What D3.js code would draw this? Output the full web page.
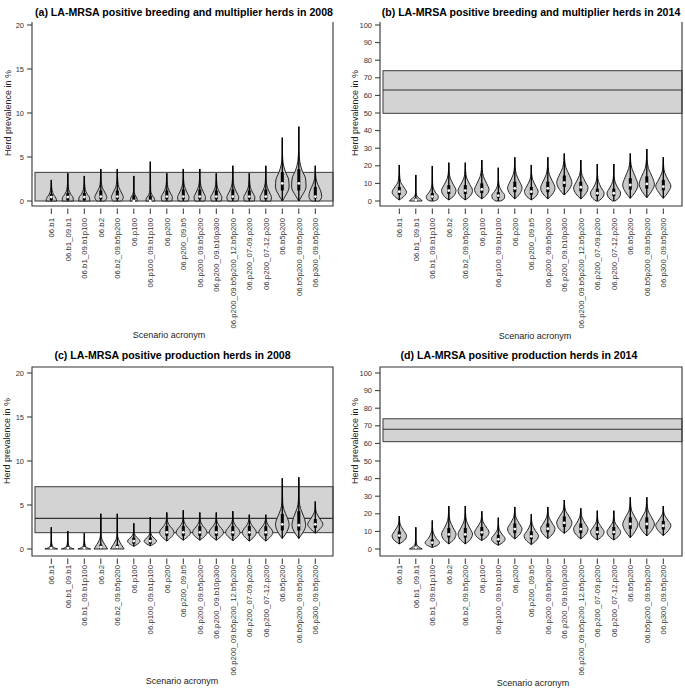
<!DOCTYPE html>
<html><head><meta charset="utf-8">
<script src="https://cdn.jsdelivr.net/npm/d3@7"></script>
<style>body{margin:0;background:#fff}svg{display:block;font-family:"Liberation Sans",Arial,sans-serif}</style>
</head><body>
<script>
const categories = ["06.b1","06.b1_09.b1","06.b1_09.b1p100","06.b2","06.b2_09.b5p200","06.p100","06.p100_09.b1p100","06.p200","06.p200_09.b5","06.p200_09.b5p200","06.p200_09.b10p300","06.p200_09.b5p200_12.b5p200","06.p200_07-09.p200","06.p200_07-12.p200","06.b5p200","06.b5p200_09.b5p200","06.p300_09.b5p200"];
const titles = ["(a) LA-MRSA positive breeding and multiplier herds in 2008","(b) LA-MRSA positive breeding and multiplier herds in 2014","(c) LA-MRSA positive production herds in 2008","(d) LA-MRSA positive production herds in 2014"];
const yLabel = "Herd prevalence in %";
const xLabel = "Scenario acronym";
const ticks2008 = [0,5,10,15,20];
const ticks2014 = [0,10,20,30,40,50,60,70,80,90,100];
// observed reference band (low, high, median line)
const bandLow = [0, 49.8, 1.86, 61.0];
const bandHigh = [3.25, 74.05, 7.08, 74.0];
const bandMid = [null, 63.1, 3.48, 68.0];

// violin outlines: [value, relative density] from bottom to top of each violin
const profA = [
 [[0,.65],[.3,.6],[.7,.3],[1.2,.1],[1.8,.03],[2.4,0]],
 [[0,.7],[.4,.65],[.8,.35],[1.3,.12],[2,.04],[3.15,0]],
 [[0,.7],[.4,.65],[.8,.35],[1.3,.12],[2,.04],[2.85,0]],
 [[0,.5],[.4,.75],[.9,.55],[1.5,.2],[2.2,.06],[3.64,0]],
 [[0,.5],[.4,.75],[.9,.55],[1.5,.22],[2.3,.06],[3.64,0]],
 [[0,.45],[.3,.4],[.7,.15],[1.1,.04],[2.85,0]],
 [[0,.55],[.3,.5],[.7,.2],[1.2,.05],[4.47,0]],
 [[0,.6],[.4,.7],[.9,.45],[1.5,.15],[2.2,.05],[3.15,0]],
 [[0,.6],[.4,.72],[.9,.5],[1.6,.17],[2.3,.05],[3.64,0]],
 [[0,.6],[.4,.72],[.9,.5],[1.6,.17],[2.3,.05],[3.64,0]],
 [[0,.6],[.4,.7],[.9,.45],[1.5,.15],[2.2,.05],[3.15,0]],
 [[0,.6],[.4,.75],[.9,.52],[1.6,.18],[2.4,.05],[4.0,0]],
 [[0,.6],[.4,.7],[.9,.45],[1.5,.15],[2.2,.05],[3.15,0]],
 [[0,.6],[.4,.72],[.9,.5],[1.6,.17],[2.4,.05],[4.0,0]],
 [[0,0],[.6,.4],[1.6,.85],[2.4,.8],[3.3,.4],[4.2,.12],[5.2,.03],[7.2,0]],
 [[0,0],[.6,.4],[1.6,.9],[2.5,.85],[3.5,.4],[4.5,.12],[5.8,.03],[8.45,0]],
 [[0,.5],[.5,.8],[1.2,.65],[1.9,.3],[2.6,.08],[4.0,0]]
];
const medA = [0.45,0.45,0.45,0.5,0.5,0,0,0.5,0.5,0.5,0.5,0.5,0.5,0.5,2.0,2.0,0.5];
const q1A = [0.1,0.1,0.1,0.2,0.2,0,0,0.2,0.2,0.2,0.2,0.2,0.2,0.2,1.2,1.2,0.3];
const q3A = [0.8,0.9,0.9,1.2,1.2,0.6,0.6,1.2,1.3,1.3,1.2,1.3,1.2,1.3,3.3,3.6,1.6];

const profB = [
 [[0.6,0],[2.5,.55],[5,.9],[8,.55],[11,.15],[15,.04],[20.5,0]],
 [[0,.8],[1,.6],[2.2,.25],[3.5,.08],[6,.02],[14.8,0]],
 [[0,.3],[1.2,.7],[2.6,.75],[4.5,.45],[7,.15],[10,.04],[19.9,0]],
 [[0.6,0],[3,.65],[6,.9],[9.5,.55],[13,.18],[17,.04],[21.8,0]],
 [[0.6,0],[3,.65],[6,.9],[9.5,.55],[13,.18],[17,.04],[21.8,0]],
 [[1.2,0],[3.5,.6],[6.5,.9],[10,.6],[14,.2],[18,.05],[23.3,0]],
 [[0,.3],[1.5,.75],[3.2,.8],[5.5,.45],[8.5,.12],[12,.03],[18.9,0]],
 [[1.2,0],[4,.6],[7.5,.9],[11,.6],[15,.2],[19,.05],[24.8,0]],
 [[0.6,0],[3,.65],[5.5,.85],[8.5,.55],[12,.18],[15.5,.04],[20.5,0]],
 [[1.2,0],[4,.6],[7.5,.9],[11,.6],[15,.2],[19,.05],[24.8,0]],
 [[3.4,0],[6.5,.6],[10.5,.95],[14.5,.65],[19,.2],[23,.05],[27,0]],
 [[1.2,0],[4,.6],[7.5,.9],[11,.55],[14.5,.18],[18,.04],[23.3,0]],
 [[0,.15],[2.2,.7],[4.5,.85],[7.5,.5],[11,.15],[15,.03],[21,0]],
 [[0,.15],[2.2,.7],[4.5,.85],[7.5,.5],[11,.15],[15,.03],[21,0]],
 [[1.5,0],[5,.6],[9,.95],[13.5,.65],[18.5,.2],[22.5,.05],[27,0]],
 [[1.9,0],[5.5,.6],[9.5,.95],[14,.65],[18.5,.2],[23.5,.05],[29.5,0]],
 [[1.5,0],[5,.6],[8.5,.95],[12,.6],[16,.18],[20,.04],[24.8,0]]
];
const medB = [5.3,0.6,2.5,5.9,5.9,6.6,3.0,7.2,5.3,7.2,10.4,7.8,4.4,4.4,9.1,9.7,8.2];
const q1B = [3.5,0.2,1.5,4,4,4.5,1.8,5,3.5,5,8,5.5,2.8,2.8,6.5,7,6];
const q3B = [8,1.5,4.5,9,9,10,5,11,8,11,14.5,11,7,7,13,14,12];

const profC = [
 [[0,.8],[.15,.35],[.4,.12],[.8,.04],[1.3,.01],[2.46,0]],
 [[0,.8],[.15,.35],[.4,.12],[.8,.04],[1.3,.01],[2.05,0]],
 [[0,.8],[.15,.35],[.4,.12],[.8,.04],[1.3,.01],[1.8,0]],
 [[0,.85],[.5,.5],[1.1,.15],[1.6,.04],[4.0,0]],
 [[0,.85],[.5,.5],[1.1,.15],[1.6,.04],[4.0,0]],
 [[.3,0],[.9,.78],[1.5,.2],[2.0,.03],[2.92,0]],
 [[.35,0],[.9,.78],[1.5,.2],[2.0,.03],[3.6,0]],
 [[.9,0],[1.9,.9],[2.8,.25],[3.3,.05],[4.15,0]],
 [[1.0,0],[1.9,.9],[2.8,.25],[3.3,.05],[4.4,0]],
 [[1.0,0],[1.9,.9],[2.8,.25],[3.3,.05],[4.15,0]],
 [[1.0,0],[1.9,.9],[2.8,.25],[3.3,.05],[4.15,0]],
 [[0.95,0],[1.9,.9],[2.8,.25],[3.3,.05],[4.3,0]],
 [[0.9,0],[1.9,.88],[2.8,.25],[3.3,.05],[3.9,0]],
 [[0.9,0],[1.9,.88],[2.8,.25],[3.3,.05],[3.9,0]],
 [[1.2,0],[2,.6],[2.8,.85],[3.6,.6],[4.5,.2],[5.3,.05],[8.03,0]],
 [[1.2,0],[2,.6],[2.7,.85],[3.6,.65],[4.6,.22],[5.5,.05],[8.15,0]],
 [[1.8,0],[2.3,.6],[2.8,.95],[3.4,.6],[4.1,.15],[4.6,.04],[5.4,0]]
];
const medC = [0.1,0.1,0.1,0.2,0.2,0.9,0.9,1.9,1.9,1.9,1.9,1.9,1.9,1.9,2.8,2.7,2.8];
const q1C = [0,0,0,0,0,0.6,0.6,1.5,1.5,1.5,1.5,1.5,1.5,1.5,2.1,2.1,2.4];
const q3C = [0.3,0.3,0.3,0.5,0.5,1.3,1.3,2.6,2.6,2.6,2.6,2.6,2.6,2.6,4.0,4.3,3.4];

const profD = [
 [[2.9,0],[5,.65],[7.5,.9],[10.5,.55],[13.5,.15],[16,.04],[18.75,0]],
 [[0,.8],[.8,.5],[2,.2],[3.5,.06],[6,.02],[12.3,0]],
 [[.9,0],[2,.6],[3.6,.9],[6,.5],[9,.15],[12,.03],[16.2,0]],
 [[2.9,0],[5.5,.65],[8.5,.9],[12,.55],[16,.15],[20,.04],[24.4,0]],
 [[2.9,0],[5.5,.65],[8.5,.9],[12,.55],[16,.15],[20,.04],[24.4,0]],
 [[4.8,0],[7,.65],[9.5,.9],[12.5,.55],[15.5,.15],[18.5,.03],[21.4,0]],
 [[2.1,0],[4,.65],[5.8,.85],[8.5,.45],[11,.12],[14,.03],[17.8,0]],
 [[5.7,0],[8.5,.65],[11.5,.9],[14.5,.55],[18,.15],[21,.04],[23.9,0]],
 [[2.5,0],[5,.65],[7.5,.9],[10.5,.5],[14,.12],[17,.03],[19.8,0]],
 [[5.9,0],[8.7,.65],[11.7,.9],[14.7,.55],[18,.15],[21,.04],[23.9,0]],
 [[8.9,0],[11.5,.65],[15,.95],[18.5,.6],[22,.15],[25,.04],[27.8,0]],
 [[5.7,0],[8.5,.65],[11.5,.9],[14.5,.55],[18,.15],[21,.04],[23.1,0]],
 [[5.1,0],[7.5,.65],[9.8,.85],[12.5,.5],[15.5,.12],[18.5,.03],[21.8,0]],
 [[5.1,0],[7.5,.65],[9.8,.85],[12.5,.5],[15.5,.12],[18.5,.03],[21.8,0]],
 [[6.4,0],[10,.6],[14,.95],[18,.6],[22,.15],[26,.04],[29.4,0]],
 [[7.4,0],[10.5,.6],[14.2,.95],[18,.6],[22,.15],[26,.04],[29.4,0]],
 [[7.6,0],[10.5,.65],[13.5,.95],[16.5,.55],[19.5,.15],[22,.03],[24.4,0]]
];
const medD = [7.6,0.8,3.6,8.3,8.3,9.5,5.5,11.3,7.2,11.5,14.9,11.3,9.6,9.6,14.2,14.2,13.2];
const q1D = [6,0.3,2.5,6.5,6.5,7.5,4,9,5.5,9.5,12.5,9,8,8,11.5,11.5,11];
const q3D = [10,1.5,5.5,12,12,12.5,8,14.5,10,14.5,18.5,14.5,12.5,12.5,18,18,16];

const W = 685, H = 689;
const svg = d3.select("body").append("svg").attr("width", W).attr("height", H);

const panels = [
 {prof:profA, med:medA, q1:q1A, q3:q3A, ticks:ticks2008, x0:32, x1:333, fTop:22, topLine:false, fBot:206, y0:201, yT:25,
  c0:51.3, c1:315.3, tx:184, ty:16, ylx:8, yly:113, labY:218, xlx:169, xly:338},
 {prof:profB, med:medB, q1:q1B, q3:q3B, ticks:ticks2014, x0:380, x1:682, fTop:22, topLine:false, fBot:206, y0:201, yT:25,
  c0:399.3, c1:663.3, tx:531, ty:16, ylx:355, yly:113, labY:218, xlx:535, xly:339},
 {prof:profC, med:medC, q1:q1C, q3:q3C, ticks:ticks2008, x0:32, x1:333, fTop:367, topLine:true, fBot:556, y0:549, yT:373,
  c0:51.3, c1:315.3, tx:172.5, ty:358.5, ylx:7, yly:441, labY:565, xlx:182, xly:684},
 {prof:profD, med:medD, q1:q1D, q3:q3D, ticks:ticks2014, x0:380, x1:682, fTop:367, topLine:true, fBot:556, y0:549, yT:373,
  c0:399.3, c1:663.3, tx:519, ty:358.5, ylx:355, yly:441, labY:565, xlx:533, xly:686}
];

const wScale = d3.scaleLinear().domain([0,1]).range([0,8]);

panels.forEach((p, pi) => {
  const g = svg.append("g");
  const ticks = p.ticks;
  const y = d3.scaleLinear().domain([0, ticks[ticks.length-1]]).range([p.y0, p.yT]);
  const x = d3.scalePoint().domain(categories).range([p.c0, p.c1]);

  // title
  g.append("text").attr("x", p.tx).attr("y", p.ty).attr("text-anchor","middle")
    .attr("font-weight","bold").attr("font-size","10.6px").attr("fill","#000").text(titles[pi]);

  // reference band
  g.append("rect").attr("x", p.x0 + 3).attr("width", p.x1 - p.x0 - 3)
    .attr("y", y(bandHigh[pi])).attr("height", y(bandLow[pi]) - y(bandHigh[pi]))
    .attr("fill","#d3d3d3").attr("stroke","#4a4a4a").attr("stroke-width",1.1);
  if (bandMid[pi] !== null) {
    g.append("line").attr("x1", p.x0 + 3).attr("x2", p.x1).attr("y1", y(bandMid[pi])).attr("y2", y(bandMid[pi]))
      .attr("stroke","#333").attr("stroke-width",1.1);
  }

  // frame
  const fp = p.topLine
    ? `M${p.x0},${p.fTop}V${p.fBot}H${p.x1}V${p.fTop}Z`
    : `M${p.x0},${p.fTop}V${p.fBot}H${p.x1}V${p.fTop}`;
  g.append("path").attr("d", fp).attr("fill","none").attr("stroke","#333").attr("stroke-width",1.1);

  // y axis
  const ya = g.append("g");
  ticks.forEach(t => {
    ya.append("line").attr("x1", p.x0 - 5).attr("x2", p.x0).attr("y1", y(t)).attr("y2", y(t))
      .attr("stroke","#333").attr("stroke-width",1);
    ya.append("text").attr("x", p.x0 - 8).attr("y", y(t)).attr("dy","0.35em").attr("text-anchor","end")
      .attr("font-size","7.5px").attr("fill","#333").text(t);
  });
  g.append("text").attr("transform", `translate(${p.ylx},${p.yly}) rotate(-90)`).attr("dy","0.35em")
    .attr("text-anchor","middle").attr("font-size","9px").attr("fill","#222").text(yLabel);

  // x axis ticks and labels
  categories.forEach(c => {
    g.append("line").attr("x1", x(c)).attr("x2", x(c)).attr("y1", p.fBot + 2.5).attr("y2", p.fBot + 8)
      .attr("stroke","#333").attr("stroke-width",1);
    g.append("text").attr("transform", `translate(${x(c)},${p.labY}) rotate(-90)`).attr("dy","0.35em")
      .attr("text-anchor","end").attr("font-size","7.8px").attr("fill","#333").text(c);
  });
  g.append("text").attr("x", p.xlx).attr("y", p.xly).attr("text-anchor","middle")
    .attr("font-size","9px").attr("fill","#222").text(xLabel);

  // violins
  categories.forEach((c, i) => {
    const cx = x(c);
    const prof = p.prof[i];
    const area = d3.area()
      .y(d => y(d[0]))
      .x0(d => cx - wScale(d[1]))
      .x1(d => cx + wScale(d[1]))
      .curve(d3.curveMonotoneY);
    g.append("path").attr("d", area(prof)).attr("fill","#c8c8c8").attr("stroke","#111").attr("stroke-width",0.9);
    const lo = prof[0][0], hi = prof[prof.length-1][0];
    g.append("line").attr("x1", cx).attr("x2", cx).attr("y1", y(lo)).attr("y2", y(hi))
      .attr("stroke","#000").attr("stroke-width",1.3);
    g.append("rect").attr("x", cx - 1.5).attr("width", 3)
      .attr("y", y(p.q3[i])).attr("height", Math.max(0.5, y(p.q1[i]) - y(p.q3[i]))).attr("fill","#000");
    g.append("circle").attr("cx", cx).attr("cy", y(p.med[i])).attr("r", 1.4).attr("fill","#fff");
  });
});
</script>
</body></html>
